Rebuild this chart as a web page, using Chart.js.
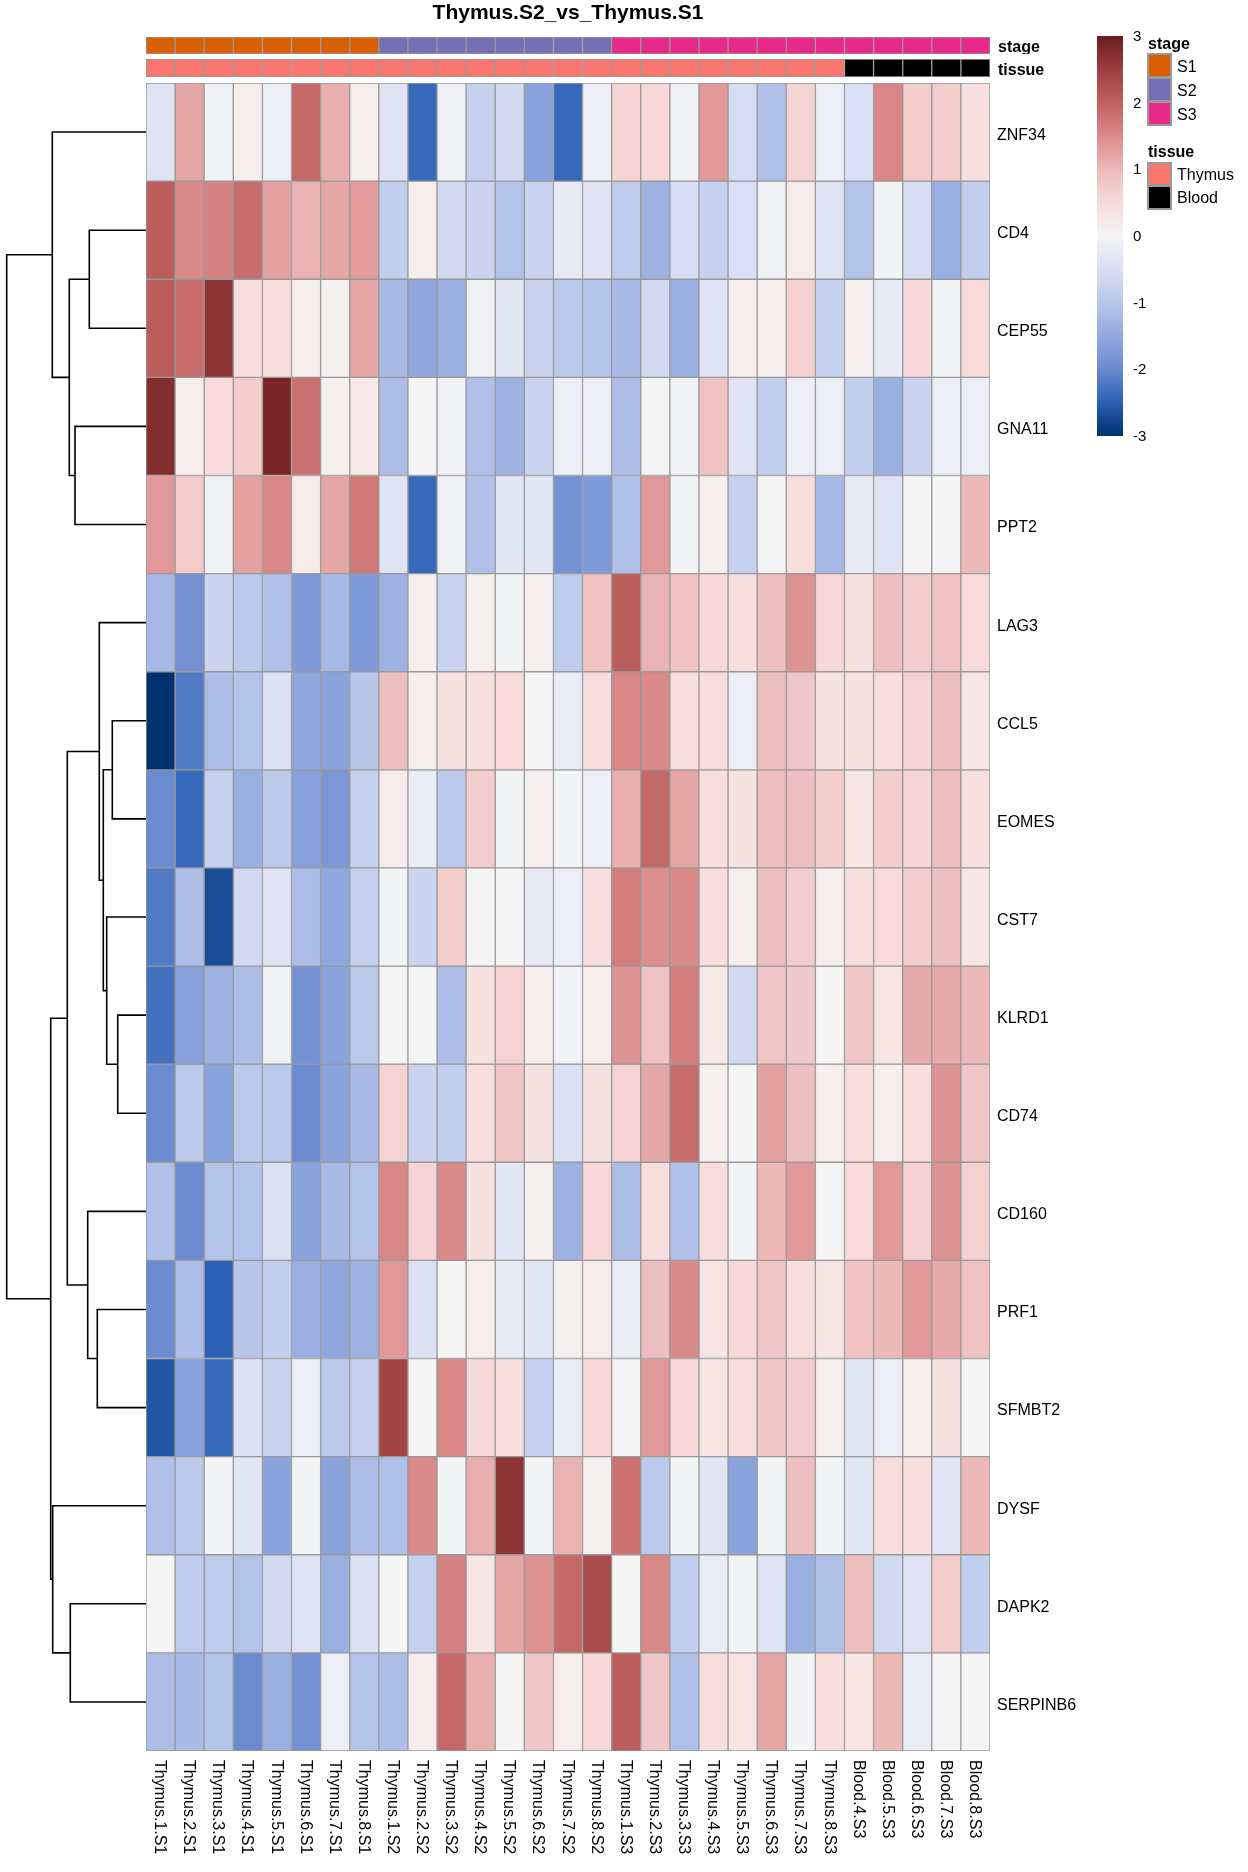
<!DOCTYPE html>
<html lang="en">
<head>
    <meta charset="UTF-8">
    <title>Thymus.S2_vs_Thymus.S1</title>
    <script src="https://cdn.jsdelivr.net/npm/chart.js"></script>
    <style>
        body {
            margin: 0;
            background: #fff;
            font-family: "Liberation Sans", Arial, sans-serif;
            color: #000;
        }
        #page {
            position: relative;
            width: 1248px;
            height: 1872px;
            overflow: hidden;
        }
        canvas {
            position: absolute;
        }
        .title {
            position: absolute;
            left: 146px;
            width: 844px;
            top: 0;
            line-height: 24px;
            text-align: center;
            font-weight: bold;
            font-size: 21px;
        }
        .leg-title {
            position: absolute;
            left: 1148px;
            font-weight: bold;
            font-size: 16px;
            line-height: 18px;
        }
        .leg-box {
            position: absolute;
            left: 1147px;
            width: 25px;
            box-sizing: border-box;
            border: 2px solid #999;
        }
        .leg-label {
            position: absolute;
            left: 1177px;
            font-size: 16px;
            line-height: 24px;
        }
    </style>
</head>
<body>
<div id="page">
    <canvas id="heat" width="1248" height="1872" style="left:0;top:0"></canvas>
    <canvas id="dendro" width="146" height="1668" style="left:0;top:83px"></canvas>
    <canvas id="stageBar" width="924" height="17" style="left:146px;top:37px"></canvas>
    <canvas id="tissueBar" width="924" height="18" style="left:146px;top:59px"></canvas>
    <canvas id="scaleBar" width="80" height="440" style="left:1090px;top:20px"></canvas>

    <div class="title">Thymus.S2_vs_Thymus.S1</div>

    <div class="leg-title" style="top:35px">stage</div>
    <div class="leg-box" style="top:53px;height:25px;background:#D95F02"></div>
    <div class="leg-box" style="top:77px;height:25px;background:#7570B3"></div>
    <div class="leg-box" style="top:101px;height:25px;background:#E7298A"></div>
    <div class="leg-label" style="top:55px">S1</div>
    <div class="leg-label" style="top:79px">S2</div>
    <div class="leg-label" style="top:103px">S3</div>

    <div class="leg-title" style="top:143px">tissue</div>
    <div class="leg-box" style="top:162px;height:24px;background:#F8766D"></div>
    <div class="leg-box" style="top:185px;height:25px;background:#000000"></div>
    <div class="leg-label" style="top:163px">Thymus</div>
    <div class="leg-label" style="top:186px">Blood</div>
</div>

<script>
    // samples (columns) and annotations
    const samples = [
        'Thymus.1.S1', 'Thymus.2.S1', 'Thymus.3.S1', 'Thymus.4.S1', 'Thymus.5.S1', 'Thymus.6.S1', 'Thymus.7.S1', 'Thymus.8.S1',
        'Thymus.1.S2', 'Thymus.2.S2', 'Thymus.3.S2', 'Thymus.4.S2', 'Thymus.5.S2', 'Thymus.6.S2', 'Thymus.7.S2', 'Thymus.8.S2',
        'Thymus.1.S3', 'Thymus.2.S3', 'Thymus.3.S3', 'Thymus.4.S3', 'Thymus.5.S3', 'Thymus.6.S3', 'Thymus.7.S3', 'Thymus.8.S3',
        'Blood.4.S3', 'Blood.5.S3', 'Blood.6.S3', 'Blood.7.S3', 'Blood.8.S3'
    ];
    const stage = ['S1','S1','S1','S1','S1','S1','S1','S1','S2','S2','S2','S2','S2','S2','S2','S2',
        'S3','S3','S3','S3','S3','S3','S3','S3','S3','S3','S3','S3','S3'];
    const tissue = ['Thymus','Thymus','Thymus','Thymus','Thymus','Thymus','Thymus','Thymus',
        'Thymus','Thymus','Thymus','Thymus','Thymus','Thymus','Thymus','Thymus',
        'Thymus','Thymus','Thymus','Thymus','Thymus','Thymus','Thymus','Thymus',
        'Blood','Blood','Blood','Blood','Blood'];
    const stageColors = { S1: '#D95F02', S2: '#7570B3', S3: '#E7298A' };
    const tissueColors = { Thymus: '#F8766D', Blood: '#000000' };

    // genes (rows, in dendrogram order) and scaled values
    const genes = ['ZNF34', 'CD4', 'CEP55', 'GNA11', 'PPT2', 'LAG3', 'CCL5', 'EOMES', 'CST7',
        'KLRD1', 'CD74', 'CD160', 'PRF1', 'SFMBT2', 'DYSF', 'DAPK2', 'SERPINB6'];

    const znf34 = [-0.4, 1.2, -0.1, 0.15, -0.15, 1.9, 1.1, 0.15, -0.4, -2.4, -0.1, -0.8, -0.6, -1.6, -2.4, -0.15, 0.6, 0.55, -0.1, 1.35, -0.55, -1.1, 0.6, -0.15, -0.5, 1.55, 0.7, 0.7, 0.4];
    const cd4 = [2.05, 1.5, 1.6, 1.85, 1.25, 1.05, 1.2, 1.3, -0.85, 0.15, -0.6, -0.75, -1.05, -0.75, -0.25, -0.4, -0.9, -1.35, -0.55, -0.8, -0.5, -0.1, 0.2, -0.4, -1.05, -0.05, -0.55, -1.4, -0.85];
    const cep55 = [2.05, 1.85, 2.65, 0.45, 0.45, 0.15, 0.12, 1.2, -1.2, -1.55, -1.4, -0.1, -0.3, -0.75, -0.95, -1.05, -1.2, -0.6, -1.4, -0.4, 0.15, 0.12, 0.65, -0.8, 0.12, -0.25, 0.55, -0.05, 0.5];
    const gna11 = [2.75, 0.15, 0.5, 0.7, 2.85, 1.8, 0.12, 0.25, -1.15, 0.02, -0.1, -1.1, -1.35, -0.75, -0.15, -0.15, -1.15, 0.02, -0.1, 0.85, -0.4, -0.85, -0.15, -0.15, -0.85, -1.4, -0.75, -0.15, -0.15];
    const ppt2 = [1.35, 0.7, -0.1, 1.25, 1.55, 0.2, 1.2, 1.7, -0.4, -2.4, -0.1, -1.1, -0.35, -0.35, -1.9, -1.75, -1.1, 1.35, -0.05, 0.12, -0.8, 0.02, 0.45, -1.25, -0.25, -0.4, 0, 0, 1.0];
    const lag3 = [-1.25, -1.9, -0.7, -0.95, -1.1, -1.75, -1.25, -1.75, -1.35, 0.15, -0.75, 0.15, -0.05, 0.15, -0.9, 0.85, 2.05, 1.05, 0.85, 0.55, 0.4, 0.9, 1.4, 0.55, 0.35, 0.9, 0.7, 0.85, 0.5];
    const ccl5 = [-3.0, -2.2, -1.15, -1.05, -0.45, -1.55, -1.6, -1.0, 0.9, 0.15, 0.35, 0.4, 0.5, 0.02, -0.2, 0.45, 1.55, 1.5, 0.4, 0.45, -0.15, 0.9, 0.8, 0.35, 0.35, 0.4, 0.6, 0.9, 0.3];
    const eomes = [-2.0, -2.4, -0.8, -1.4, -0.95, -1.65, -1.8, -0.8, 0.2, -0.2, -0.95, 0.7, -0.05, 0.12, -0.05, -0.15, 1.1, 1.9, 1.2, 0.45, 0.35, 0.9, 0.9, 0.7, 0.3, 0.7, 0.6, 0.9, 0.4];
    const cst7 = [-2.2, -1.15, -2.7, -0.6, -0.4, -1.15, -1.55, -0.8, -0.05, -0.7, 0.7, 0, 0, -0.25, -0.15, 0.4, 1.65, 1.45, 1.5, 0.45, 0.12, 0.9, 0.7, 0.15, 0.4, 0.5, 0.7, 0.9, 0.3];
    const klrd1 = [-2.3, -1.65, -1.35, -1.15, -0.1, -1.9, -1.6, -0.95, 0.02, 0.02, -1.15, 0.35, 0.6, 0.15, -0.05, 0.15, 1.4, 0.85, 1.65, 0.25, -0.6, 0.8, 0.75, 0, 0.8, 0.3, 1.15, 1.15, 1.0];
    const cd74 = [-2.0, -0.95, -1.6, -0.95, -0.95, -2.0, -1.6, -1.2, 0.6, -0.75, -0.85, 0.45, 0.8, 0.35, -0.45, 0.35, 0.6, 1.2, 1.85, 0.12, 0, 1.25, 0.9, 0.15, 0.45, 0.15, 0.45, 1.4, 0.8];
    const cd160 = [-1.1, -2.0, -1.05, -1.05, -0.45, -1.6, -1.2, -1.05, 1.55, 0.6, 1.5, 0.35, -0.35, 0.12, -1.35, 0.55, -1.15, 0.45, -1.1, 0.45, -0.05, 1.0, 1.35, 0.02, 0.5, 1.35, 0.65, 1.4, 0.65];
    const prf1 = [-2.0, -1.15, -2.5, -1.0, -0.85, -1.4, -1.55, -1.35, 1.35, -0.45, 0.02, 0.15, -0.25, -0.35, 0.12, 0.2, -0.2, 0.9, 1.5, 0.3, 0.55, 0.8, 0.45, 0.3, 0.85, 1.0, 1.35, 1.15, 0.85];
    const sfmbt2 = [-2.6, -1.6, -2.4, -0.45, -0.75, -0.15, -0.95, -0.8, 2.4, 0.02, 1.55, 0.55, 0.4, -0.8, -0.2, 0.55, 0, 1.35, 0.55, 0.3, 0.45, 0.8, 0.7, 0.15, -0.35, -0.15, 0.15, 0.35, 0];
    const dysf = [-1.1, -0.95, -0.05, -0.35, -1.6, -0.05, -1.6, -1.15, -1.1, 1.5, -0.05, 1.1, 2.65, -0.05, 1.05, 0.12, 1.8, -0.95, -0.05, -0.35, -1.6, -0.05, 0.9, -0.05, -0.35, 0.45, 0.4, -0.35, 1.0];
    const dapk2 = [0, -0.9, -0.9, -1.05, -0.6, -0.4, -1.4, -0.45, 0, -0.8, 1.6, 0.3, 1.2, 1.4, 1.9, 2.3, 0, 1.55, -0.85, -0.2, -0.05, -0.4, -1.4, -1.1, 0.9, -0.6, -0.4, 0.7, -0.85];
    const serpinb6 = [-1.15, -1.2, -1.05, -2.0, -1.4, -1.9, -0.15, -1.05, -1.15, 0.2, 1.9, 1.1, 0, 0.8, 0.15, 0.55, 2.05, 0.8, -1.1, 0.4, 0.3, 1.2, -0.05, 0.45, 0.3, 1.0, -0.2, 0, 0];

    const rows = [znf34, cd4, cep55, gna11, ppt2, lag3, ccl5, eomes, cst7,
        klrd1, cd74, cd160, prf1, sfmbt2, dysf, dapk2, serpinb6];

    // row clustering, hclust style (negative = leaf, positive = earlier merge)
    const merges = [
        [-2, -3, 5.67], [-4, -5, 7.1], [1, 2, 7.67], [-1, 3, 9.37],
        [-10, -11, 2.83], [-7, -8, 3.37], [-9, 5, 3.93], [6, 7, 4.27], [-6, 8, 4.67],
        [-13, -14, 4.87], [-12, 10, 5.83], [9, 11, 7.87],
        [-16, -17, 7.57], [-15, 13, 9.33], [12, 14, 9.53], [4, 15, 13.93]
    ];

    const legendTicks = [3, 2, 1, 0, -1, -2, -3];

    // colour ramp navy - white - dark red
    const colorStops = [
        [-3, [0, 49, 111]], [-2.5, [42, 96, 180]], [-2, [107, 139, 208]], [-1.5, [147, 169, 223]],
        [-1, [184, 198, 234]], [-0.5, [217, 223, 244]], [0, [245, 245, 245]], [0.5, [248, 218, 218]],
        [1, [236, 184, 184]], [1.5, [219, 138, 138]], [2, [192, 96, 96]], [2.5, [156, 62, 62]], [3, [106, 27, 30]]
    ];
    function colorFor(v) {
        v = Math.max(-3, Math.min(3, v));
        for (let i = 1; i < colorStops.length; i++) {
            if (v <= colorStops[i][0]) {
                const [v0, c0] = colorStops[i - 1];
                const [v1, c1] = colorStops[i];
                const t = (v - v0) / (v1 - v0);
                const c = c0.map((a, k) => Math.round(a + (c1[k] - a) * t));
                return `rgb(${c[0]},${c[1]},${c[2]})`;
            }
        }
        return 'rgb(106,27,30)';
    }

    Chart.defaults.font.family = '"Liberation Sans", Arial, sans-serif';
    Chart.defaults.color = '#000';

    const noPlugins = { legend: { display: false }, tooltip: { enabled: false } };

    // heatmap
    const labelsPlugin = {
        id: 'labels',
        afterDraw(chart) {
            const { ctx, chartArea, scales: { x, y } } = chart;
            ctx.save();
            ctx.fillStyle = '#000';
            ctx.font = '16px "Liberation Sans", Arial, sans-serif';
            ctx.textBaseline = 'middle';
            ctx.textAlign = 'left';
            genes.forEach((g, i) => ctx.fillText(g, chartArea.right + 7, y.getPixelForValue(i + 0.5) + 3.5));
            samples.forEach((s, i) => {
                ctx.save();
                ctx.translate(x.getPixelForValue(i) - 1, chartArea.bottom + 9);
                ctx.rotate(Math.PI / 2);
                ctx.fillText(s, 0, 0);
                ctx.restore();
            });
            ctx.restore();
        }
    };

    new Chart(document.getElementById('heat'), {
        type: 'bar',
        data: {
            labels: samples,
            datasets: rows.map((vals, r) => ({
                label: genes[r],
                data: vals.map(() => [r, r + 1]),
                backgroundColor: vals.map(colorFor),
                borderColor: '#999999',
                borderWidth: 1,
                borderSkipped: false,
                grouped: false,
                categoryPercentage: 1,
                barPercentage: 1
            }))
        },
        options: {
            responsive: false,
            animation: false,
            layout: { padding: { left: 146, top: 83, right: 258, bottom: 121 } },
            scales: {
                x: { display: false },
                y: { display: false, min: 0, max: rows.length, reverse: true }
            },
            plugins: noPlugins
        },
        plugins: [labelsPlugin]
    });

    // dendrogram
    const nodes = [];
    const links = [];
    function nodeOf(ref) {
        return ref < 0 ? { h: 0, y: -ref - 0.5 } : nodes[ref - 1];
    }
    merges.forEach(([a, b, h]) => {
        const A = nodeOf(a), B = nodeOf(b);
        nodes.push({ h: h, y: (A.y + B.y) / 2 });
        links.push([{ x: A.h, y: A.y }, { x: h, y: A.y }, { x: h, y: B.y }, { x: B.h, y: B.y }]);
    });

    new Chart(document.getElementById('dendro'), {
        type: 'scatter',
        data: {
            datasets: links.map(pts => ({
                data: pts,
                showLine: true,
                borderColor: '#000',
                borderWidth: 1.6,
                pointRadius: 0,
                tension: 0,
                clip: false
            }))
        },
        options: {
            responsive: false,
            animation: false,
            scales: {
                x: { type: 'linear', display: false, min: 0, max: 14.6, reverse: true },
                y: { type: 'linear', display: false, min: 0, max: rows.length, reverse: true }
            },
            plugins: noPlugins
        }
    });

    // annotation rows
    function annotationRow(id, name, groups, palette) {
        new Chart(document.getElementById(id), {
            type: 'bar',
            data: {
                labels: samples,
                datasets: [{
                    data: groups.map(() => 1),
                    backgroundColor: groups.map(g => palette[g]),
                    borderColor: '#999999',
                    borderWidth: 1,
                    borderSkipped: false,
                    categoryPercentage: 1,
                    barPercentage: 1
                }]
            },
            options: {
                responsive: false,
                animation: false,
                layout: { padding: { right: 80 } },
                scales: {
                    x: { display: false },
                    y: { display: false, min: 0, max: 1 }
                },
                plugins: noPlugins
            },
            plugins: [{
                id: 'rowName',
                afterDraw(chart) {
                    const { ctx, chartArea } = chart;
                    ctx.save();
                    ctx.fillStyle = '#000';
                    ctx.font = 'bold 16px "Liberation Sans", Arial, sans-serif';
                    ctx.textBaseline = 'middle';
                    ctx.fillText(name, chartArea.right + 8, (chartArea.top + chartArea.bottom) / 2 + 2.5);
                    ctx.restore();
                }
            }]
        });
    }
    annotationRow('stageBar', 'stage', stage, stageColors);
    annotationRow('tissueBar', 'tissue', tissue, tissueColors);

    // colour key
    const keySlices = [];
    for (let v = -3; v < 3 - 1e-9; v += 0.06) keySlices.push(v);
    new Chart(document.getElementById('scaleBar'), {
        type: 'bar',
        data: {
            labels: [''],
            datasets: keySlices.map(v => ({
                data: [[v, v + 0.061]],
                backgroundColor: colorFor(v + 0.03),
                borderWidth: 0,
                grouped: false,
                categoryPercentage: 1,
                barPercentage: 1
            }))
        },
        options: {
            responsive: false,
            animation: false,
            layout: { padding: { left: 7, right: 47, top: 16, bottom: 24 } },
            scales: {
                x: { display: false },
                y: { display: false, min: -3, max: 3 }
            },
            plugins: noPlugins
        },
        plugins: [{
            id: 'keyTicks',
            afterDraw(chart) {
                const { ctx, chartArea, scales: { y } } = chart;
                ctx.save();
                ctx.fillStyle = '#000';
                ctx.font = '15px "Liberation Sans", Arial, sans-serif';
                ctx.textBaseline = 'middle';
                legendTicks.forEach(t => ctx.fillText(String(t), chartArea.right + 10, y.getPixelForValue(t) + 1));
                ctx.restore();
            }
        }]
    });
</script>
</body>
</html>
